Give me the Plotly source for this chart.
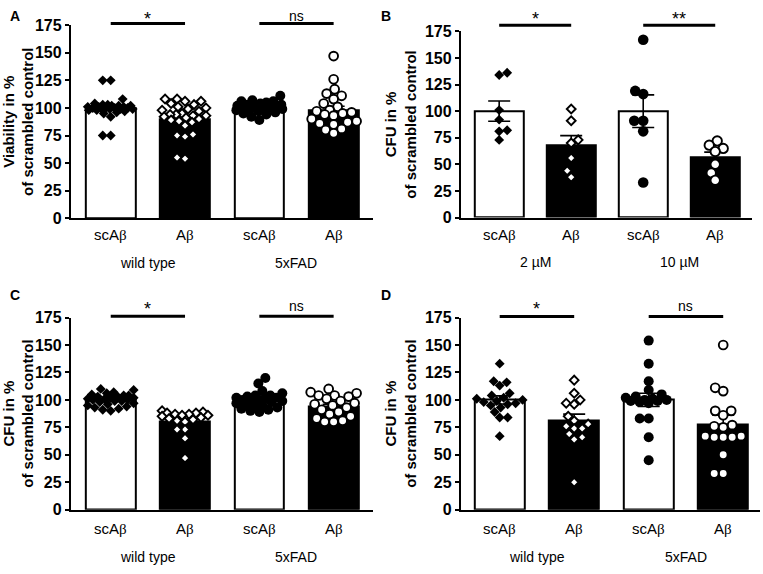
import plotly.graph_objects as go
import numpy as np

# ---------------- data ----------------
tick_labels = ["scAβ", "Aβ", "scAβ", "Aβ"]
groups_ACD = ["wild type", "5xFAD"]
groups_B = ["2 µM", "10 µM"]
panel_letters = ["A", "B", "C", "D"]
y_titles = ["Viability in %<br>of scrambled control", "CFU in %<br>of scrambled control",
            "CFU in %<br>of scrambled control", "CFU in %<br>of scrambled control"]
y_ticks = [0, 25, 50, 75, 100, 125, 150, 175]

A_wt_sc = [125, 125, 108, 104, 103, 103, 102, 102, 102, 101, 101, 101, 100, 100, 100, 100,
           99, 99, 99, 99, 98, 98, 97, 96, 95, 92, 75, 75]
A_wt_ab = [108, 108, 106, 106, 104, 103, 101, 100, 99, 98, 97, 95, 94, 94, 93, 93, 92, 91,
           90, 89, 88, 87, 84, 76, 75, 74, 55, 54]
A_fad_sc = [111, 107, 106, 106, 105, 104, 103, 103, 102, 102, 101, 101, 100, 100, 99, 99,
            98, 97, 96, 95, 94, 92, 89]
A_fad_ab = [147, 126, 117, 113, 111, 108, 104, 101, 98, 97, 96, 95, 94, 93, 90, 88, 87, 86,
            85, 81, 80, 77]
A_mean = [100, 90, 100, 98]
A_sem = [2, 2.5, 1, 3.5]

B_2_sc = [136, 134, 101, 92, 82, 81, 73]
B_2_ab = [102, 91, 73, 70, 56, 44, 38]
B_10_sc = [167, 119, 116, 91, 91, 81, 33]
B_10_ab = [72, 68, 65, 62, 50, 42, 35]
B_mean = [100, 68, 100, 56.5]
B_sem = [9.5, 9, 15.3, 5]

C_wt_sc = [110, 109, 107, 106, 105, 104, 104, 103, 103, 102, 102, 101, 101, 100, 100, 99,
           99, 98, 97, 96, 95, 94, 93, 92, 91, 90]
C_wt_ab = [90, 89, 88, 88, 87, 87, 86, 86, 85, 84, 83, 82, 81, 80, 73, 73, 65, 47]
C_fad_sc = [120, 115, 108, 106, 104, 104, 103, 102, 102, 101, 100, 100, 99, 99, 98, 97, 96,
            95, 94, 93, 92, 91, 90, 89]
C_fad_ab = [110, 107, 106, 104, 104, 103, 101, 99, 97, 96, 95, 93, 91, 89, 87, 85, 83, 81,
            80, 80]
C_mean = [100, 80.5, 100, 94]
C_sem = [1, 2.5, 1.5, 2]

D_wt_sc = [133, 117, 116, 113, 106, 104, 102, 101, 100, 99, 98, 97, 96, 95, 93, 89, 84, 84, 67]
D_wt_ab = [118, 106, 100, 97, 96, 85, 81, 78, 76, 74, 74, 69, 66, 64, 25]
D_fad_sc = [154, 133, 117, 109, 105, 103, 102, 101, 100, 100, 99, 99, 98, 97, 83, 83, 66, 45]
D_fad_ab = [150, 111, 108, 90, 90, 86, 77, 76, 75, 67, 67, 66, 66, 66, 50, 33, 33]
D_mean = [100, 81, 100, 78]
D_sem = [3.7, 6, 6, 8]

sig_A = ["*", "ns"]
sig_B = ["*", "**"]
sig_C = ["*", "ns"]
sig_D = ["*", "ns"]

# ---------------- layout geometry (pixels) ----------------
W, H = 763, 574
FONT = "Liberation Sans"


def px2x(p):
    return p / W


def px2y(p):
    return 1 - p / H


def beta_label(s):
    return s.replace("β", "<span style='font-family:Liberation Serif'>β</span>")


panels = [
    dict(data=[A_wt_sc, A_wt_ab, A_fad_sc, A_fad_ab], mean=A_mean, sem=A_sem, groups=groups_ACD,
         sig=sig_A, xpx=(69, 372), ypx=(17.7, 216.7), xr=(-0.537, 3.53), bw=0.67,
         letter=(6, 8), sigy=16, sigty=8, ticky=233, groupy=263),
    dict(data=[B_2_sc, B_2_ab, B_10_sc, B_10_ab], mean=B_mean, sem=B_sem, groups=groups_B,
         sig=sig_B, xpx=(460, 752), ypx=(24, 216), xr=(-0.533, 3.511), bw=0.68,
         letter=(378, 8), sigy=17.7, sigty=8, ticky=233, groupy=262),
    dict(data=[C_wt_sc, C_wt_ab, C_fad_sc, C_fad_ab], mean=C_mean, sem=C_sem, groups=groups_ACD,
         sig=sig_C, xpx=(69, 372), ypx=(319, 517), xr=(-0.537, 3.53), bw=0.67,
         letter=(6, 296), sigy=317.7, sigty=307, ticky=536, groupy=566),
    dict(data=[D_wt_sc, D_wt_ab, D_fad_sc, D_fad_ab], mean=D_mean, sem=D_sem, groups=groups_ACD,
         sig=sig_D, xpx=(460, 760), ypx=(319, 517), xr=(-0.522, 3.494), bw=0.67,
         letter=(378, 296), sigy=318, sigty=307, ticky=536, groupy=566),
]


def swarm_offsets(vals, ppx, ppy, diam, maxhalf):
    order = sorted(range(len(vals)), key=lambda i: vals[i])
    placed = []
    offs = [0.0] * len(vals)
    cands = [0.0]
    for k in range(1, int(maxhalf) + 1):
        cands += [float(k), float(-k)]
    flip = 1
    for i in order:
        y = vals[i] * ppy
        best, bestd = 0.0, -1.0
        for c in cands:
            cc = c * flip
            d = min((np.hypot(cc - px, y - py) for px, py in placed), default=1e9)
            if d >= diam:
                best = cc
                break
            if d > bestd:
                bestd, best = d, cc
        placed.append((best, y))
        offs[i] = best / ppx
        flip = -flip
    return offs


fig = go.Figure()
layout_axes = {}
shapes = []
annotations = []

for pi, P in enumerate(panels):
    n = pi + 1
    xa = "x" if n == 1 else f"x{n}"
    ya = "y" if n == 1 else f"y{n}"
    x0p, x1p = P["xpx"]
    y0p, y1p = P["ypx"]
    ppx = (x1p - x0p) / (P["xr"][1] - P["xr"][0])
    ppy = (y1p - y0p) / 175.0
    pos = [0, 1, 2, 3]

    fig.add_trace(go.Bar(
        x=pos, y=P["mean"], width=P["bw"], xaxis=xa, yaxis=ya,
        marker=dict(color=["white", "black", "white", "black"], line=dict(color="black", width=2)),
        error_y=dict(type="data", array=P["sem"], color="black", thickness=1.6, width=11),
        showlegend=False, hoverinfo="skip"))

    for gi, vals in enumerate(P["data"]):
        second_group = gi >= 2
        filled = gi % 2 == 0
        sym = "diamond" if not second_group else "circle"
        if sym == "diamond":
            size = 6.8
            diam = 7.5
        else:
            size = 8.8 if pi != 1 else 9.4
            diam = 8.5
        offs = swarm_offsets(vals, ppx, ppy, diam, 23)
        xs = [pos[gi] + o for o in offs]
        if filled:
            mk = dict(symbol=sym, size=size + (1.2 if sym == "circle" else 0.8), color="black",
                      line=dict(width=0))
        else:
            mk = dict(symbol=sym, size=size, color="white", line=dict(color="black", width=1.9))
        fig.add_trace(go.Scatter(x=xs, y=vals, mode="markers", marker=mk, xaxis=xa, yaxis=ya,
                                 cliponaxis=False, showlegend=False, hoverinfo="skip"))

    xkey = "xaxis" if n == 1 else f"xaxis{n}"
    ykey = "yaxis" if n == 1 else f"yaxis{n}"
    layout_axes[xkey] = dict(domain=[px2x(x0p), px2x(x1p)], range=list(P["xr"]),
                             showline=True, linecolor="black", linewidth=2, showgrid=False,
                             zeroline=False, showticklabels=False, ticks="", anchor=ya,
                             fixedrange=True)
    layout_axes[ykey] = dict(domain=[px2y(y1p), px2y(y0p)], range=[0, 175], tickvals=y_ticks,
                             showline=True, linecolor="black", linewidth=2, showgrid=False,
                             zeroline=False, ticks="outside", ticklen=4, tickwidth=2,
                             tickcolor="black", anchor=xa,
                             tickfont=dict(family=FONT, size=16, color="black", weight="bold"),
                             title=dict(text=y_titles[pi], standoff=5,
                                        font=dict(family=FONT, size=15, color="black",
                                                  weight="bold")),
                             fixedrange=True)

    for ti, lab in enumerate(tick_labels):
        annotations.append(dict(x=pos[ti], y=px2y(P["ticky"]), xref=xa, yref="paper",
                                text=beta_label(lab), showarrow=False, xanchor="center",
                                yanchor="middle",
                                font=dict(family=FONT, size=15, color="black")))
    for gj, g in enumerate(P["groups"]):
        annotations.append(dict(x=0.5 + 2 * gj, y=px2y(P["groupy"]), xref=xa, yref="paper",
                                text=g, showarrow=False, xanchor="center", yanchor="middle",
                                font=dict(family=FONT, size=14, color="black")))
    for sj, s in enumerate(P["sig"]):
        shapes.append(dict(type="line", xref=xa, yref="paper", x0=2 * sj, x1=2 * sj + 1,
                           y0=px2y(P["sigy"]), y1=px2y(P["sigy"]),
                           line=dict(color="black", width=3)))
        star = s != "ns"
        annotations.append(dict(x=2 * sj + 0.5, y=px2y(P["sigty"] + (3 if star else 0)),
                                xref=xa, yref="paper", text=s, showarrow=False,
                                xanchor="center", yanchor="middle",
                                font=dict(family=FONT, size=18 if star else 14, color="black")))
    lx, ly = P["letter"]
    annotations.append(dict(x=px2x(lx), y=px2y(ly), xref="paper", yref="paper",
                            text=panel_letters[pi], showarrow=False, xanchor="left",
                            yanchor="middle",
                            font=dict(family=FONT, size=14, color="black", weight="bold")))

fig.update_layout(width=W, height=H, margin=dict(l=0, r=0, t=0, b=0), autosize=False,
                  plot_bgcolor="white", paper_bgcolor="white", bargap=0,
                  shapes=shapes, annotations=annotations, **layout_axes)

fig.write_html("out.html", config={"displayModeBar": False},
               post_script="document.body.style.margin='0px';document.body.style.overflow='hidden';")
